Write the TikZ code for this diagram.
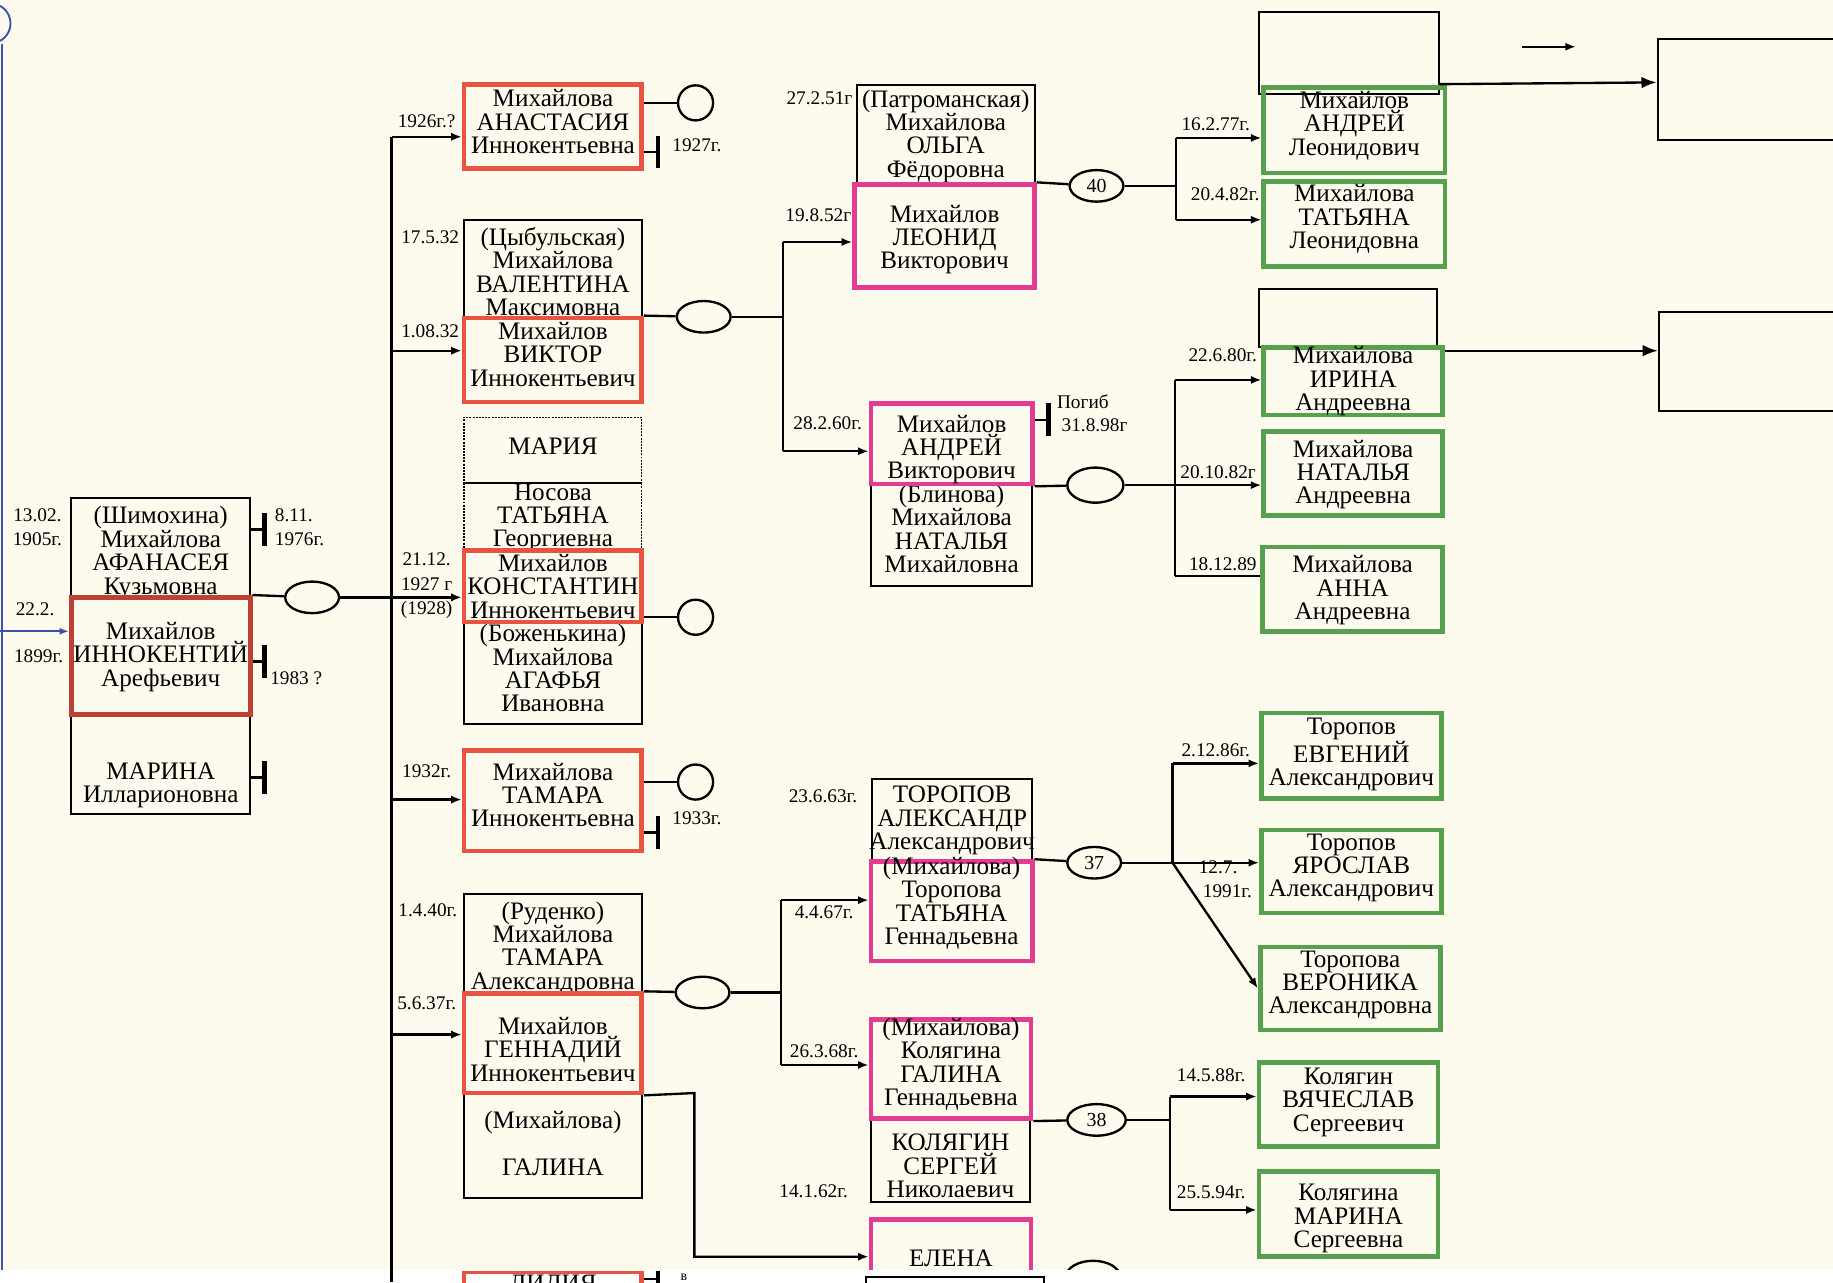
\documentclass[tikz,border=0pt]{standalone}
\usepackage{fontspec}
\setmainfont{Liberation Serif}
\usetikzlibrary{shapes.geometric,arrows.meta}

\definecolor{paper}{RGB}{252,251,237}
\definecolor{sonred}{RGB}{233,84,66}
\definecolor{grandpink}{RGB}{228,60,145}
\definecolor{greatgreen}{RGB}{86,160,78}
\definecolor{inkblue}{RGB}{60,82,168}

\tikzset{
  wh/.style 2 args={minimum width=#1, minimum height=#2},
  says/.style 2 args={label={[yshift=#1, align=center, inner sep=0pt,
    font=\fontsize{21.5}{20}\selectfont]center:{#2}}},
  person/.style={rectangle, draw, line width=1.7pt, inner sep=0pt},
  son/.style={person, draw=sonred, line width=4pt},
  grand/.style={person, draw=grandpink, line width=4pt},
  great/.style={person, draw=greatgreen, line width=4pt},
  unsure/.style={person, densely dotted, line width=1.2pt},
  date/.style={font=\fontsize{16.5}{21}\selectfont, align=center, inner sep=0pt},
  link/.style={line width=2pt},
  child/.style={link, -{Latex[length=9pt,width=7pt]}},
  died/.style={link, -{Bar[width=28pt,line width=4pt]}},
  wed/.style={ellipse, draw, line width=2pt, minimum width=46pt, minimum height=27pt,
    inner sep=0pt, font=\fontsize{17}{17}\selectfont},
  nokids/.style={circle, draw, line width=2pt, minimum size=30pt, inner sep=0pt}
}

\begin{document}
\begin{tikzpicture}[x=1pt,y=-1pt]

  \useasboundingbox (0,0) rectangle (1568,1097);
  \fill[paper] (0,0) rectangle (1568,1086);
  \fill[white] (0,1086) rectangle (1568,1097);

  % first generation
  \node[person, wh={153pt}{84pt}, says={-5pt}{(Шимохина)\\Михайлова\\АФАНАСЕЯ\\Кузьмовна}] (afan) at (137.5,468) {};
  \node[person, wh={153pt}{84pt}, says={-15pt}{\mbox{}\\МАРИНА\\Илларионовна}] (marina) at (137.5,654) {};
  \node[son, draw=sonred!80!black, wh={153pt}{100pt}, says={-1pt}{Михайлов\\ИННОКЕНТИЙ\\Арефьевич}] (innok) at (137.5,561) {};

  % children
  \node[person, wh={152pt}{83pt}, says={-3pt}{(Цыбульская)\\Михайлова\\ВАЛЕНТИНА\\Максимовна}] (valent) at (473,229.5) {};
  \node[unsure, wh={152pt}{56pt}, says={3pt}{МАРИЯ}] (mariya) at (473,385) {};
  \node[unsure, wh={152pt}{58pt}, says={-1pt}{Носова\\ТАТЬЯНА\\Георгиевна}] (nosova) at (473,442) {};
  \node[person, wh={152pt}{87pt}, says={4pt}{(Боженькина)\\Михайлова\\АГАФЬЯ\\Ивановна}] (agafya) at (473,575.5) {};
  \node[person, wh={152pt}{84pt}, says={-4pt}{(Руденко)\\Михайлова\\ТАМАРА\\Александровна}] (rudenko) at (473,807) {};
  \node[person, wh={152pt}{90pt}, says={2pt}{(Михайлова)\\\mbox{}\\ГАЛИНА}] (galina) at (473,980) {};
  \node[son, wh={152pt}{72pt}, says={4pt}{Михайлова\\АНАСТАСИЯ\\Иннокентьевна}] (anast) at (473,108) {};
  \node[son, wh={152pt}{72pt}, says={5pt}{Михайлов\\ВИКТОР\\Иннокентьевич}] (viktor) at (473,308) {};
  \node[son, wh={152pt}{61pt}, says={0pt}{Михайлов\\КОНСТАНТИН\\Иннокентьевич}] (konst) at (473,501.5) {};
  \node[son, wh={152pt}{86pt}, says={5pt}{Михайлова\\ТАМАРА\\Иннокентьевна}] (tamara) at (473,685) {};
  \node[son, wh={152pt}{85pt}, says={-5pt}{Михайлов\\ГЕННАДИЙ\\Иннокентьевич}] (genn) at (473,892.5) {};

  % grandchildren
  \node[person, wh={152pt}{85pt}, says={-1pt}{(Патроманская)\\Михайлова\\ОЛЬГА\\Фёдоровна}] (olga) at (809,115.5) {};
  \node[person, wh={138pt}{87pt}, says={5pt}{(Блинова)\\Михайлова\\НАТАЛЬЯ\\Михайловна}] (natalya) at (814,457.5) {};
  \node[person, wh={137pt}{70pt}, says={-1pt}{ТОРОПОВ\\АЛЕКСАНДР\\Александрович}] (alex) at (814.5,701) {};
  \node[person, wh={136pt}{71pt}, says={-5pt}{КОЛЯГИН\\СЕРГЕЙ\\Николаевич}] (sergey) at (813,992.5) {};
  \node[grand, wh={154pt}{88pt}, says={-3pt}{Михайлов\\ЛЕОНИД\\Викторович}] (leonid) at (808,202) {};
  \node[grand, wh={138pt}{69pt}, says={-5pt}{Михайлов\\АНДРЕЙ\\Викторович}] (andrey) at (814,379.5) {};
  \node[grand, wh={138pt}{85pt}, says={7pt}{(Михайлова)\\Торопова\\ТАТЬЯНА\\Геннадьевна}] (tatiana) at (814,779.5) {};
  \node[grand, wh={137pt}{85pt}, says={4pt}{(Михайлова)\\Колягина\\ГАЛИНА\\Геннадьевна}] (galinak) at (813.5,914.5) {};
  \begin{scope}
    \clip (0,0) rectangle (1568,1086);
    \node[grand, wh={137pt}{80pt}, says={7pt}{ЕЛЕНА}] (elena) at (813.5,1083) {};
    \node[wed] (w5) at (935,1092) {};
  \end{scope}

  % great-grandchildren
  \node[person, wh={154pt}{70pt}] (spareA) at (1154,45) {};
  \node[person, wh={152pt}{50pt}] (spareB) at (1153,272) {};
  \node[great, wh={155pt}{73pt}, says={4pt}{Михайлов\\АНДРЕЙ\\Леонидович}] (andreyL) at (1158.5,111.5) {};
  \node[great, wh={155pt}{73pt}, says={4pt}{Михайлова\\ТАТЬЯНА\\Леонидовна}] (tatianaL) at (1158.5,191.5) {};
  \node[great, wh={153pt}{58pt}, says={0pt}{Михайлова\\ИРИНА\\Андреевна}] (irina) at (1157.5,326) {};
  \node[great, wh={153pt}{72pt}, says={-1pt}{Михайлова\\НАТАЛЬЯ\\Андреевна}] (natalyaA) at (1157.5,405) {};
  \node[great, wh={154pt}{72pt}, says={-1pt}{Михайлова\\АННА\\Андреевна}] (anna) at (1157,504) {};
  \node[great, wh={154pt}{73pt}, says={1pt}{Торопов\\ЕВГЕНИЙ\\Александрович}] (evgeniy) at (1156,646.5) {};
  \node[great, wh={154pt}{71pt}, says={3pt}{Торопов\\ЯРОСЛАВ\\Александрович}] (yaroslav) at (1156,745.5) {};
  \node[great, wh={154pt}{71pt}, says={3pt}{Торопова\\ВЕРОНИКА\\Александровна}] (veronika) at (1155,845.5) {};
  \node[great, wh={153pt}{72pt}, says={2pt}{Колягин\\ВЯЧЕСЛАВ\\Сергеевич}] (vyach) at (1153.5,945) {};
  \node[great, wh={153pt}{73pt}, says={-4pt}{Колягина\\МАРИНА\\Сергеевна}] (marinaK) at (1153.5,1038.5) {};
  \node[person, wh={162pt}{87pt}] (nextA) at (1499,76.5) {};
  \node[person, wh={162pt}{85pt}] (nextB) at (1500,309.5) {};

  % marriages and childless marks
  \node[wed] (w1) at (267,511) {};
  \node[wed] (w2) at (602,271) {};
  \node[wed] (w3) at (601,849) {};
  \node[wed] (w40) at (938,159) {40};
  \node[wed, minimum width=48pt, minimum height=30pt] (w4) at (937,415) {};
  \node[wed] (w37) at (936,738) {37};
  \node[wed, minimum width=50pt] (w38) at (938,958) {38};
  \node[nokids] (c1) at (595,88) {};
  \node[nokids] (c2) at (595,528) {};
  \node[nokids] (c3) at (595,669) {};

  \coordinate (b1) at (335,117);
  \coordinate (b2) at (335,300);
  \coordinate (b3) at (335,684);
  \coordinate (b4) at (335,885);
  \coordinate (bend) at (335,1097);
  \coordinate (j2) at (670,271);
  \coordinate (j2a) at (670,207);
  \coordinate (j2b) at (670,386);
  \coordinate (j3) at (668,849);
  \coordinate (j3a) at (668,770);
  \coordinate (j3b) at (668,911);
  \coordinate (j6a) at (594,935);
  \coordinate (j6b) at (594,1075);
  \coordinate (j40) at (1006,159);
  \coordinate (j40a) at (1006,118);
  \coordinate (j40b) at (1006,188);
  \coordinate (j4) at (1005,415);
  \coordinate (j4a) at (1005,325);
  \coordinate (j4b) at (1005,493);
  \coordinate (j37) at (1003,738);
  \coordinate (j37a) at (1003,653);
  \coordinate (j38) at (1001,958);
  \coordinate (j38a) at (1001,938);
  \coordinate (j38b) at (1001,1035);
  \coordinate (x1) at (228,453);
  \coordinate (x2) at (228,566);
  \coordinate (x3) at (228,665);
  \coordinate (x4) at (565,130);
  \coordinate (x5) at (565,712);
  \coordinate (x6) at (899,359);
  \coordinate (outA) at ([yshift=-27pt]spareA.east);
  \coordinate (outB) at ([yshift=-5pt]irina.north east);
  \coordinate (loose1) at (1302,40);
  \coordinate (loose2) at (1348,40);
  \coordinate (bl) at (0,540);
  \coordinate (bluebottom) at (2,1086);

  % connectors
  \draw[link] (innok.north east) -- (w1);
  \draw[child] (w1) -- (w1 -| konst.west);
  \draw[link] (b1) -- (bend);
  \draw[child] (b1) -- (b1 -| anast.west);
  \draw[child] (b2) -- (b2 -| viktor.west);
  \draw[child] (b3) -- (b3 -| tamara.west);
  \draw[child] (b4) -- (b4 -| genn.west);

  \draw[link] (viktor.north east) -- (w2);
  \draw[link] (w2) -- (j2);
  \draw[link] (j2a) -- (j2b);
  \draw[child] (j2a) -- (j2a -| leonid.west);
  \draw[child] (j2b) -- (j2b -| andrey.west);

  \draw[link] (genn.north east) -- (w3);
  \draw[link] (w3) -- (j3);
  \draw[link] (j3a) -- (j3b);
  \draw[child] (j3a) -- (j3a -| tatiana.west);
  \draw[child] (j3b) -- (j3b -| galinak.west);
  \draw[child] (genn.south east) -- (j6a) -- (j6b) -- (j6b -| elena.west);

  \draw[link] (anast.east |- c1) -- (c1);
  \draw[link] (konst.east |- c2) -- (c2);
  \draw[link] (tamara.east |- c3) -- (c3);

  \draw[died] (afan.east |- x1) -- (x1);
  \draw[died] (innok.east |- x2) -- (x2);
  \draw[died] (marina.east |- x3) -- (x3);
  \draw[died] (anast.east |- x4) -- (x4);
  \draw[died] (tamara.east |- x5) -- (x5);
  \draw[died] (andrey.east |- x6) -- (x6);

  \draw[link] (leonid.north east) -- (w40);
  \draw[link] (w40) -- (j40);
  \draw[link] (j40a) -- (j40b);
  \draw[child] (j40a) -- (j40a -| andreyL.west);
  \draw[child] (j40b) -- (j40b -| tatianaL.west);

  \draw[link] (andrey.south east) -- (w4);
  \draw[link] (w4) -- (j4);
  \draw[link] (j4a) -- (j4b);
  \draw[child] (j4a) -- (j4a -| irina.west);
  \draw[child] (j4) -- (j4 -| natalyaA.west);
  \draw[link] (j4b) -- (j4b -| anna.west);

  \draw[link] (tatiana.north east) -- (w37);
  \draw[link] (w37) -- (j37);
  \draw[link] (j37a) -- (j37);
  \draw[child] (j37a) -- (j37a -| evgeniy.west);
  \draw[child] (j37) -- (j37 -| yaroslav.west);
  \draw[child] (j37) -- (veronika.west);

  \draw[link] (galinak.south east) -- (w38);
  \draw[link] (w38) -- (j38);
  \draw[link] (j38a) -- (j38b);
  \draw[child] (j38a) -- (j38a -| vyach.west);
  \draw[child] (j38b) -- (j38b -| marinaK.west);

  \draw[link, -{Latex[length=13pt,width=10pt]}] (outA) -- ([yshift=6pt]nextA.west);
  \draw[link, -{Latex[length=13pt,width=10pt]}] (outB) -- (outB -| nextB.west);
  \draw[link, -{Latex[length=9pt,width=7pt]}] (loose1) -- (loose2);

  % page edge
  \node[circle, draw=inkblue, line width=1.6pt, minimum size=34pt, inner sep=0pt] (tag) at (-8,20) {};
  \draw[inkblue, line width=1.6pt] (tag.south -| bluebottom) -- (bluebottom);
  \draw[inkblue, line width=1.4pt, -{Latex[length=8pt,width=6pt]}] (bl) -- (bl -| innok.west);

  % dates
  \node[date] (d1) at (32,451) {13.02.\\1905г.};
  \node[date] (d2) at (30,521) {22.2.};
  \node[date] (d3) at (33,561) {1899г.};
  \node[date, anchor=west, align=left] (d4) at (235,451) {8.11.\\1976г.};
  \node[date, anchor=west] (d5) at (231,580) {1983 ?};
  \node[date] (d6) at (365,104) {1926г.?};
  \node[date] (d7) at (368,203) {17.5.32};
  \node[date] (d8) at (368,283) {1.08.32};
  \node[date] (d9) at (365,501) {21.12.\\1927 г\\(1928)};
  \node[date] (d10) at (365,660) {1932г.};
  \node[date] (d11) at (366,779) {1.4.40г.};
  \node[date] (d12) at (365,858) {5.6.37г.};
  \node[date, anchor=west] (d13) at (575,124) {1927г.};
  \node[date, anchor=west] (d14) at (575,700) {1933г.};
  \node[date] (d15) at (701,84) {27.2.51г};
  \node[date] (d16) at (700,184) {19.8.52г};
  \node[date] (d17) at (708,362) {28.2.60г.};
  \node[date] (d18) at (704,681) {23.6.63г.};
  \node[date] (d19) at (705,780) {4.4.67г.};
  \node[date] (d20) at (705,899) {26.3.68г.};
  \node[date] (d21) at (696,1019) {14.1.62г.};
  \node[date, anchor=west] (d22) at (904,344) {Погиб};
  \node[date, anchor=west] (d23) at (908,364) {31.8.98г};
  \node[date] (d24) at (1040,106) {16.2.77г.};
  \node[date] (d25) at (1048,166) {20.4.82г.};
  \node[date] (d26) at (1046,304) {22.6.80г.};
  \node[date] (d27) at (1042,404) {20.10.82г};
  \node[date] (d28) at (1046,483) {18.12.89};
  \node[date] (d29) at (1040,642) {2.12.86г.};
  \node[date] (d30) at (1042,742) {12.7.};
  \node[date] (d31) at (1050,762) {1991г.};
  \node[date] (d32) at (1036,920) {14.5.88г.};
  \node[date] (d33) at (1036,1020) {25.5.94г.};

  % next page
  \begin{scope}
    \clip (-10,1088) rectangle (1600,1110);
    \node[son, wh={152pt}{80pt}, says={28pt}{ЛИДИЯ}] (lidiya) at (473,1128) {};
    \coordinate (x7) at (565,1094);
    \draw[died] (lidiya.east |- x7) -- (x7);
    \node[font=\fontsize{12}{12}\selectfont] (v) at (585,1093) {в};
    \node[person, wh={152pt}{60pt}] (lower) at (817,1122) {};
  \end{scope}

\end{tikzpicture}
\end{document}
